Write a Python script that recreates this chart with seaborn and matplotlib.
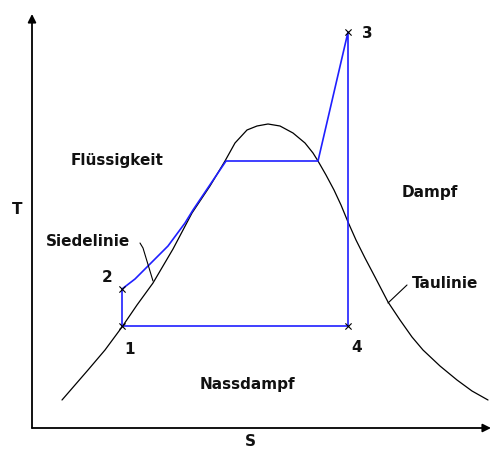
# T-s Diagramm (Clausius-Rankine-Prozess) mit Nassdampfgebiet

import numpy as np
import seaborn as sns
import matplotlib.pyplot as plt
import pandas as pd

# Grenzkurve (Siedelinie + Taulinie), s und T in beliebigen Einheiten
dome_s = [30, 56, 73, 90, 105, 121, 141, 160, 178, 193, 203, 215, 225, 236, 248, 261, 273, 281, 286,
          294, 302, 309, 316, 324, 333, 343, 356, 368, 380, 391, 408, 425, 440, 456]
dome_T = [28, 58, 78, 101, 123, 145, 179, 215, 242, 267, 285, 298, 302, 304, 302, 295, 285, 275, 267,
          253, 238, 223, 206, 188, 170, 151, 126, 108, 91, 78, 62, 48, 37, 28]

# Kreisprozess 1 -> 2 -> 3 -> 4 -> 1
cycle_s = [90, 90, 103, 118, 136, 153, 161, 194, 286, 316, 316, 90]
cycle_T = [102, 139, 149, 164, 182, 205, 218, 267, 267, 396, 102, 102]

# Zustandspunkte
point_names = ['1', '2', '3', '4']
point_s = [90, 90, 316, 316]
point_T = [102, 139, 396, 102]

df_dome = pd.DataFrame({'s': dome_s, 'T': dome_T})
df_cycle = pd.DataFrame({'s': cycle_s, 'T': cycle_T})

sns.set_style("white")
plt.rcParams['font.family'] = ['DejaVu Sans']

fig = plt.figure(figsize=(4.91, 4.49), dpi=100)
ax = fig.add_axes([32/491, 21/449, 459/491, 414/449])

sns.lineplot(data=df_dome, x='s', y='T', sort=False, estimator=None,
             color='black', lw=0.9, ax=ax)
sns.lineplot(data=df_cycle, x='s', y='T', sort=False, estimator=None,
             color='#1f1fff', lw=1.2, ax=ax)
ax.scatter(point_s, point_T, marker='x', s=20, color='black', lw=0.8, zorder=5)

ax.set_xlim(0, 459)
ax.set_ylim(0, 414)
for sp in ax.spines.values():
    sp.set_visible(False)
ax.set_xticks([])
ax.set_yticks([])
ax.set_xlabel('')
ax.set_ylabel('')

# Achsenpfeile
arrow = dict(arrowstyle='-|>', color='black', lw=1.3, mutation_scale=12, shrinkA=0, shrinkB=0)
ax.annotate('', xy=(0, 414), xytext=(0, 0), arrowprops=arrow, annotation_clip=False)
ax.annotate('', xy=(459, 0), xytext=(0, 0), arrowprops=arrow, annotation_clip=False)

tk = dict(fontsize=11, fontweight='bold', color='#111111', ha='center', va='center')
ax.text(-15, 219, 'T', clip_on=False, **tk)
ax.text(218, -13, 'S', clip_on=False, **tk)

ax.text(85, 268, 'Flüssigkeit', **tk)
ax.text(398, 235, 'Dampf', **tk)
ax.text(215, 44, 'Nassdampf', **tk)
ax.text(56, 186, 'Siedelinie', **tk)
ax.text(413, 144, 'Taulinie', **tk)

label_pos = {'1': (98, 78), '2': (75, 150), '3': (335, 395), '4': (325, 80)}
for name in point_names:
    ax.text(*label_pos[name], name, **tk)

# Hinweislinien
ax.plot([108, 111, 121], [185, 180, 147], color='black', lw=0.8)
ax.plot([375, 356], [143, 125], color='black', lw=0.8)

plt.savefig('out.png', dpi=100)
